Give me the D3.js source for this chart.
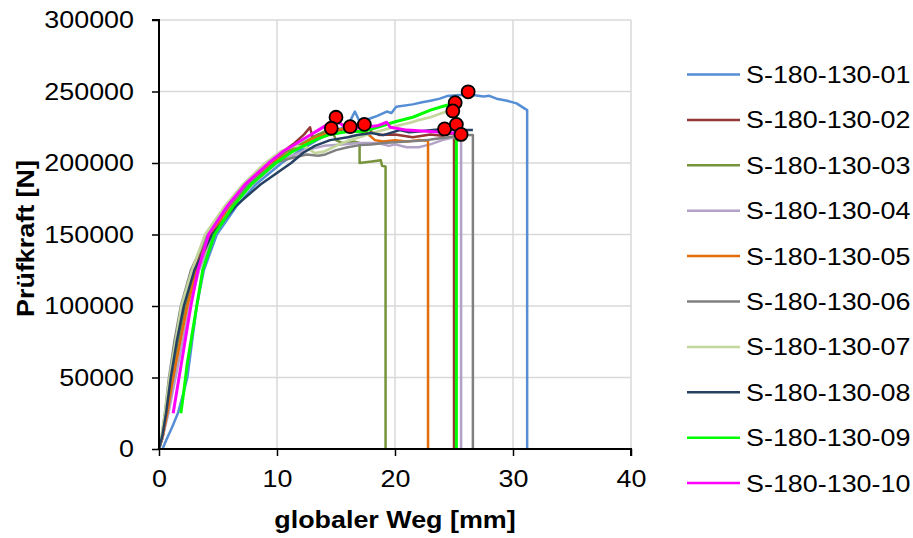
<!DOCTYPE html>
<html>
<head>
<meta charset="utf-8">
<script src="https://cdn.jsdelivr.net/npm/d3@7"></script>
<style>
  body { margin: 0; background: #fff; }
  svg { display: block; font-family: "Liberation Sans", Arial, sans-serif; }
</style>
</head>
<body>
<div id="chart"></div>
<script>
// ---- data (globaler Weg [mm], Prüfkraft [N]) ----
const names = ["S-180-130-01","S-180-130-02","S-180-130-03","S-180-130-04","S-180-130-05",
               "S-180-130-06","S-180-130-07","S-180-130-08","S-180-130-09","S-180-130-10"];

const s01 = [[0.3,0],[0.6,6000],[1.1,15000],[1.6,25000],[2.1,40000],[2.4,50000],[2.8,75000],[3.2,100000],
  [3.8,125000],[4.9,150000],[6.6,170000],[8.2,185000],[10.4,200000],[11.8,208000],[13,214000],[14,219000],
  [15,223000],[16,226000],[16.3,231000],[16.6,236000],[17,229000],[17.5,230000],[18,231500],[18.5,233000],
  [19.3,236000],[19.7,235000],[20.1,239400],[21.5,241000],[22.3,242500],[23,243500],[23.8,245000],
  [24.4,246800],[25.5,247500],[26.6,247500],[27.5,246500],[28,247000],[28.6,245000],[29.5,243500],
  [30.3,241700],[31,238000],[31.2,237000],[31.2,0]];
const s02 = [[0,0],[0.3,8000],[0.7,25000],[1.2,50000],[1.7,75000],[2.2,100000],[3.0,125000],[4.1,150000],
  [5.7,170000],[7.3,185000],[9.2,200000],[10.5,208000],[11.5,214000],[12.3,220000],[12.8,225000],[13.0,218000],
  [14,221000],[15,222500],[16.5,225000],[17.4,227000],[18,222000],[18.7,219600],[20,220000],[21.5,218000],
  [23,220000],[24,219000],[25,221000],[25,0]];
const s03 = [[0,0],[0.3,8000],[0.7,25000],[1.2,50000],[1.7,75000],[2.3,100000],[3.1,125000],[4.3,150000],
  [5.9,170000],[7.5,185000],[9.5,200000],[10.8,208000],[12,213000],[13.5,220000],[14.6,224000],[15.0,216000],
  [15.5,214000],[16.5,215000],[17.0,214000],[17.0,200000],[18,201000],[18.8,202000],[18.9,198000],
  [19.2,197500],[19.2,0]];
const s04 = [[0,0],[0.3,8000],[0.8,25000],[1.4,50000],[2.0,75000],[2.6,100000],[3.4,125000],[4.6,150000],
  [6.2,170000],[7.9,185000],[10.0,200000],[11.2,205000],[12.5,209000],[14,212000],[15.5,213000],[17,214000],
  [18.5,214000],[19.5,212000],[20,213000],[21,211000],[22,211000],[23,213000],[24,216000],[25,218000],
  [25.6,220000],[25.6,0]];
const s05 = [[0,0],[0.3,9000],[0.7,25000],[1.2,50000],[1.8,75000],[2.4,100000],[3.2,125000],[4.4,150000],
  [6.0,170000],[7.6,185000],[9.6,200000],[11,207000],[12,212000],[13,217000],[14,220000],[15,223000],
  [16.2,225000],[17,222000],[17.6,221000],[18.3,216000],[19,215000],[20,216000],[21,215000],[22,216000],
  [22.8,215500],[22.8,0]];
const s06 = [[0,0],[0.2,7000],[0.5,25000],[0.85,50000],[1.3,75000],[1.85,100000],[2.7,125000],[4.1,150000],
  [5.9,170000],[7.6,185000],[9.8,200000],[11,203000],[12.5,206000],[13.5,205000],[14.1,206000],[15,209000],
  [16,211000],[17,212500],[18,213000],[19,214000],[20,214500],[21,215000],[22,215500],[22.7,216000],
  [23.5,217000],[24.5,218000],[25.5,219000],[26.4,219600],[26.6,219500],[26.6,0]];
const s07 = [[0,0],[0.2,8000],[0.5,25000],[0.9,50000],[1.4,75000],[1.9,100000],[2.8,125000],[3.9,150000],
  [5.6,170000],[7.1,185000],[9.0,200000],[10.3,208000],[11.5,212000],[12.5,211000],[13.2,207000],[14,208000],
  [15,212000],[16.2,216000],[17,218000],[18,221000],[19,223000],[20.4,226500],[21.2,228000],[22,230000],
  [23,232000],[24,235000],[24.9,236400]];
const s08 = [[0,0],[0.3,10000],[0.6,25000],[1.0,50000],[1.5,75000],[2.1,100000],[3.0,125000],[4.5,150000],
  [6.5,170000],[8.6,185000],[11.2,200000],[12.2,207000],[13.2,212000],[14.5,216000],[16,218000],[16.8,219600],
  [18,221000],[19,219500],[20.4,223000],[21.2,221500],[22,222000],[23.2,223000],[24.2,223800],[25.5,223000],
  [26.6,223000]];
const s09 = [[1.85,25000],[2.1,40000],[2.4,60000],[2.8,80000],[3.2,100000],[3.7,125000],[4.7,150000],
  [6.3,170000],[7.8,185000],[9.9,200000],[11.3,208000],[12.5,213000],[13.5,217000],[14.5,220000],[16,222000],
  [17.3,222000],[18.5,225000],[20.1,229000],[21.5,232000],[23,237000],[24,239500],[24.5,240600],[25.1,242000],
  [25.2,242000],[25.2,0]];
const s10 = [[1.2,25000],[1.5,40000],[1.9,60000],[2.3,80000],[2.7,100000],[3.3,125000],[4.2,150000],
  [5.8,170000],[7.3,185000],[9.3,200000],[10.5,208000],[11.5,213000],[12.5,218000],[13.5,223000],[14.3,227000],
  [15,231000],[15.3,228000],[16,224000],[17.3,225000],[18.5,226000],[19.3,228500],[19.6,225000],[21,223000],
  [22,222500],[23,222000],[24,221500],[25,221000],[25.9,221000]];
const series = [s01, s02, s03, s04, s05, s06, s07, s08, s09, s10];

// Fmax points
const maxPoints = [[15.0,232000],[14.6,224300],[16.2,225400],[17.4,227000],[24.2,223800],
  [26.2,249800],[25.1,242200],[24.9,236400],[25.2,227000],[25.6,220000]];

const xTicks = [0, 10, 20, 30, 40];
const yTicks = [0, 50000, 100000, 150000, 200000, 250000, 300000];

// ---- styles ----
const colors = ["#558ed5","#953735","#77933c","#b3a2c7","#e46c0a",
                "#808080","#c3d69b","#254061","#00ff00","#ff00ff"];
const widths = [2.5, 2.5, 2.5, 2.5, 2.5, 2.5, 2.7, 2.5, 3, 3];
const stretch = 1.12;

const W = 913, H = 538;
const plot = { left: 159, right: 631, top: 20, bottom: 449 };

const svg = d3.select("#chart").append("svg").attr("width", W).attr("height", H);

const x = d3.scaleLinear().domain([0, 40]).range([plot.left, plot.right]);
const y = d3.scaleLinear().domain([0, 300000]).range([plot.bottom, plot.top]);

// grid
svg.append("g").selectAll("line").data(yTicks.slice(1)).join("line")
  .attr("x1", plot.left).attr("x2", plot.right)
  .attr("y1", d => y(d)).attr("y2", d => y(d))
  .attr("stroke", "#d9d9d9").attr("stroke-width", 1.5);
svg.append("g").selectAll("line").data(xTicks.slice(1)).join("line")
  .attr("x1", d => x(d)).attr("x2", d => x(d))
  .attr("y1", plot.top).attr("y2", plot.bottom)
  .attr("stroke", "#d9d9d9").attr("stroke-width", 1.5);

// series
const line = d3.line().x(d => x(d[0])).y(d => y(d[1]));
svg.append("g").selectAll("path").data(series).join("path")
  .attr("d", line)
  .attr("fill", "none")
  .attr("stroke", (d, i) => colors[i])
  .attr("stroke-width", (d, i) => widths[i])
  .attr("stroke-linejoin", "round");

// max markers
svg.append("g").selectAll("circle").data(maxPoints).join("circle")
  .attr("cx", d => x(d[0])).attr("cy", d => y(d[1]))
  .attr("r", 6.5)
  .attr("fill", "#ff0000").attr("stroke", "#000").attr("stroke-width", 1.8);

// axes
const yAxis = svg.append("g").attr("transform", `translate(${plot.left},0)`)
  .call(d3.axisLeft(y).tickValues(yTicks).tickFormat(d3.format("d")).tickSize(7).tickPadding(18));
const xAxis = svg.append("g").attr("transform", `translate(0,${plot.bottom})`)
  .call(d3.axisBottom(x).tickValues(xTicks).tickSize(7).tickPadding(14));
[yAxis, xAxis].forEach(a => {
  a.select(".domain").attr("stroke", "#000").attr("stroke-width", 2);
  a.selectAll(".tick line").attr("stroke", "#000").attr("stroke-width", 1.5);
  a.selectAll("text").attr("font-size", "24px").attr("fill", "#000")
    .attr("font-family", "Liberation Sans, Arial, sans-serif");
});
yAxis.select(".domain").attr("d", `M-7,${plot.top}H0V${plot.bottom}`);
xAxis.select(".domain").attr("d", `M${plot.left},0H${plot.right}V7`);

// axis titles
svg.append("text")
  .attr("x", (plot.left + plot.right) / 2).attr("y", 528)
  .attr("text-anchor", "middle").attr("font-size", "24px").attr("font-weight", "bold")
  .text("globaler Weg [mm]");
svg.append("text")
  .attr("transform", `translate(34,${(plot.top + plot.bottom) / 2 + 4}) rotate(-90)`)
  .attr("text-anchor", "middle").attr("font-size", "24px").attr("font-weight", "bold")
  .text("Prüfkraft [N]");

// legend
const legend = svg.append("g");
names.forEach((n, i) => {
  const ly = 74.5 + i * 45.4;
  legend.append("line").attr("x1", 687).attr("x2", 740).attr("y1", ly).attr("y2", ly)
    .attr("stroke", colors[i]).attr("stroke-width", 2.5);
  legend.append("text").attr("x", 746).attr("y", ly + 8.5)
    .attr("font-size", "24px").attr("fill", "#000").text(n);
});

// widen glyphs slightly to match the reference proportions
svg.selectAll("text").each(function () {
  const len = this.getComputedTextLength();
  d3.select(this).attr("textLength", len * stretch).attr("lengthAdjust", "spacingAndGlyphs");
});
</script>
</body>
</html>
